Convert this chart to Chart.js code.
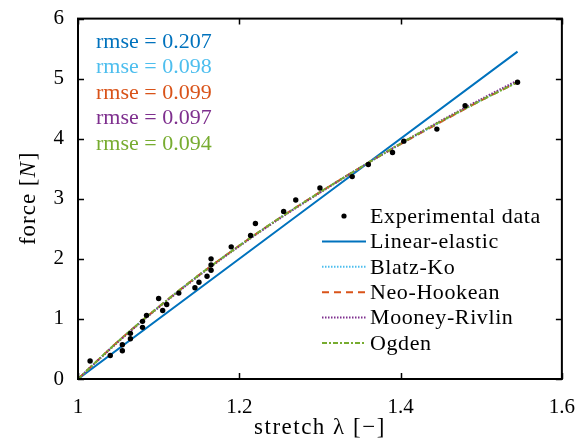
<!DOCTYPE html>
<html>
<head>
<meta charset="utf-8">
<script src="https://cdn.jsdelivr.net/npm/chart.js@4.4.0/dist/chart.umd.min.js"></script>
<style>
  html, body { margin: 0; padding: 0; background: #fff; }
  #wrap { width: 583px; height: 445px; }
</style>
</head>
<body>
<div id="wrap"><canvas id="chartjs-0" width="583" height="445"></canvas></div>
<script>
var expStretch = [1.015, 1.040, 1.055, 1.055, 1.065, 1.065, 1.080, 1.080, 1.085, 1.100, 1.105, 1.110,
                  1.125, 1.145, 1.150, 1.160, 1.165, 1.165, 1.165, 1.190, 1.214, 1.220, 1.255, 1.270,
                  1.300, 1.340, 1.360, 1.390, 1.404, 1.445, 1.480, 1.545];
var expForce = [0.30, 0.39, 0.47, 0.57, 0.67, 0.76, 0.86, 0.96, 1.06, 1.34, 1.14, 1.24,
                1.43, 1.52, 1.61, 1.71, 1.81, 1.90, 2.00, 2.20, 2.39, 2.59, 2.79, 2.98,
                3.18, 3.37, 3.57, 3.77, 3.96, 4.16, 4.55, 4.94];

// model curves
var linStretch = [1, 1.545];
var linForce = [0, 5.45];
var fitStretch = [1, 1.05, 1.10, 1.15, 1.20, 1.25, 1.30, 1.35, 1.40, 1.45, 1.50, 1.545];
var blatzForce   = [0, 0.63, 1.20, 1.73, 2.22, 2.68, 3.11, 3.52, 3.91, 4.28, 4.64, 4.95];
var neoForce     = [0, 0.63, 1.20, 1.73, 2.22, 2.68, 3.11, 3.52, 3.91, 4.28, 4.64, 4.94];
var mooneyForce  = [0, 0.62, 1.19, 1.72, 2.21, 2.67, 3.10, 3.52, 3.92, 4.30, 4.66, 4.97];
var ogdenForce   = [0, 0.63, 1.20, 1.73, 2.22, 2.68, 3.11, 3.52, 3.92, 4.29, 4.64, 4.94];

var modelNames = ["Linear-elastic", "Blatz-Ko", "Neo-Hookean", "Mooney-Rivlin", "Ogden"];
var modelColors = ["#0072BD", "#4DBEEE", "#D95319", "#7E2F8E", "#77AC30"];
var modelDash = [[], [1.5, 1.5], [7, 5], [1.5, 1.5], [5, 2, 2, 2]];
var rmseValues = ["0.207", "0.098", "0.099", "0.097", "0.094"];

var xTicks = [1, 1.2, 1.4, 1.6];
var yTicks = [0, 1, 2, 3, 4, 5, 6];

var SERIF = "'Liberation Serif', 'DejaVu Serif', serif";

function pts(xs, ys) {
    var out = [];
    for (var i = 0; i < xs.length; i++) {
        out.push({ x: xs[i], y: ys[i] });
    }
    return out;
}

function lineSet(k, xs, ys) {
    return {
        type: "line",
        label: modelNames[k],
        data: pts(xs, ys),
        borderColor: modelColors[k],
        borderWidth: 2,
        borderDash: modelDash[k],
        pointRadius: 0,
        fill: false,
        tension: 0.3,
        order: 5 - k
    };
}

// box, inward ticks, titles, rmse text and legend
var decor = {
    id: "decor",
    afterDraw: function (chart) {
        var ctx = chart.ctx;
        var a = chart.chartArea;
        var xs = chart.scales.x, ys = chart.scales.y;
        ctx.save();
        ctx.strokeStyle = "#000";
        ctx.lineWidth = 2;
        ctx.strokeRect(a.left, a.top, a.right - a.left, a.bottom - a.top);
        ctx.lineWidth = 1.5;
        ctx.beginPath();
        for (var i = 0; i < xTicks.length; i++) {
            var px = Math.round(xs.getPixelForValue(xTicks[i])) + 0.5;
            ctx.moveTo(px, a.bottom); ctx.lineTo(px, a.bottom - 6);
            ctx.moveTo(px, a.top); ctx.lineTo(px, a.top + 6);
        }
        for (var j = 0; j < yTicks.length; j++) {
            var py = Math.round(ys.getPixelForValue(yTicks[j])) + 0.5;
            ctx.moveTo(a.left, py); ctx.lineTo(a.left + 6, py);
            ctx.moveTo(a.right, py); ctx.lineTo(a.right - 6, py);
        }
        ctx.stroke();

        // axis titles
        ctx.fillStyle = "#000";
        ctx.textBaseline = "middle";
        ctx.font = "23px " + SERIF;
        ctx.letterSpacing = "1.5px";
        ctx.textAlign = "center";
        ctx.fillText("stretch \u03bb [\u2212]", (a.left + a.right) / 2, 428);

        ctx.save();
        ctx.translate(29, (a.top + a.bottom) / 2);
        ctx.rotate(-Math.PI / 2);
        ctx.letterSpacing = "1px";
        var p1 = "force [", p2 = "N", p3 = "]";
        ctx.font = "23px " + SERIF;
        var w1 = ctx.measureText(p1).width, w3 = ctx.measureText(p3).width;
        ctx.font = "italic 23px " + SERIF;
        var w2 = ctx.measureText(p2).width;
        var sx = -(w1 + w2 + w3) / 2;
        ctx.textAlign = "left";
        ctx.font = "23px " + SERIF;
        ctx.fillText(p1, sx, 0);
        ctx.font = "italic 23px " + SERIF;
        ctx.fillText(p2, sx + w1, 0);
        ctx.font = "23px " + SERIF;
        ctx.fillText(p3, sx + w1 + w2 + 1, 0);
        ctx.restore();

        // rmse labels
        ctx.font = "22px " + SERIF;
        ctx.letterSpacing = "0px";
        ctx.textAlign = "left";
        for (var r = 0; r < rmseValues.length; r++) {
            ctx.fillStyle = modelColors[r];
            ctx.fillText("rmse = " + rmseValues[r], 96, 42 + r * 25.5);
        }

        // legend
        var lx = 322, tx = 370, ly = 216, step = 25.4;
        ctx.letterSpacing = "0.6px";
        ctx.fillStyle = "#000";
        ctx.beginPath();
        ctx.arc(344, ly, 2.6, 0, Math.PI * 2);
        ctx.fill();
        ctx.fillText("Experimental data", tx, ly + 1);
        for (var m = 0; m < modelNames.length; m++) {
            var yy = ly + (m + 1) * step;
            ctx.strokeStyle = modelColors[m];
            ctx.lineWidth = 2;
            ctx.setLineDash(modelDash[m]);
            ctx.beginPath();
            ctx.moveTo(lx, yy); ctx.lineTo(lx + 44, yy);
            ctx.stroke();
            ctx.setLineDash([]);
            ctx.fillStyle = "#000";
            ctx.fillText(modelNames[m], tx, yy + 1);
        }
        ctx.restore();
    }
};

var ctx0 = document.getElementById("chartjs-0");
var myChart = new Chart(ctx0, {
    type: "scatter",
    data: {
        datasets: [
            {
                label: "Experimental data",
                data: pts(expStretch, expForce),
                backgroundColor: "#000",
                borderColor: "#000",
                pointRadius: 2.7,
                pointBorderWidth: 0,
                order: 0
            },
            lineSet(0, linStretch, linForce),
            lineSet(1, fitStretch, blatzForce),
            lineSet(2, fitStretch, neoForce),
            lineSet(3, fitStretch, mooneyForce),
            lineSet(4, fitStretch, ogdenForce)
        ]
    },
    options: {
        responsive: false,
        animation: false,
        layout: { padding: { top: 16, right: 21, left: 0, bottom: 0 } },
        plugins: { legend: { display: false }, tooltip: { enabled: false } },
        scales: {
            x: {
                type: "linear", min: 1, max: 1.6,
                grid: { display: false },
                border: { display: false },
                afterFit: function (s) { s.height = 66; },
                ticks: {
                    stepSize: 0.2, padding: 8, color: "#000",
                    font: { family: SERIF, size: 21 },
                    callback: function (v) { return xTicks.indexOf(Math.round(v * 10) / 10) >= 0 ? String(Math.round(v * 10) / 10) : ""; }
                }
            },
            y: {
                type: "linear", min: 0, max: 6,
                grid: { display: false },
                border: { display: false },
                afterFit: function (s) { s.width = 78; },
                ticks: {
                    stepSize: 1, padding: 6, color: "#000",
                    font: { family: SERIF, size: 21 }
                }
            }
        }
    },
    plugins: [decor]
});
</script>
</body>
</html>
